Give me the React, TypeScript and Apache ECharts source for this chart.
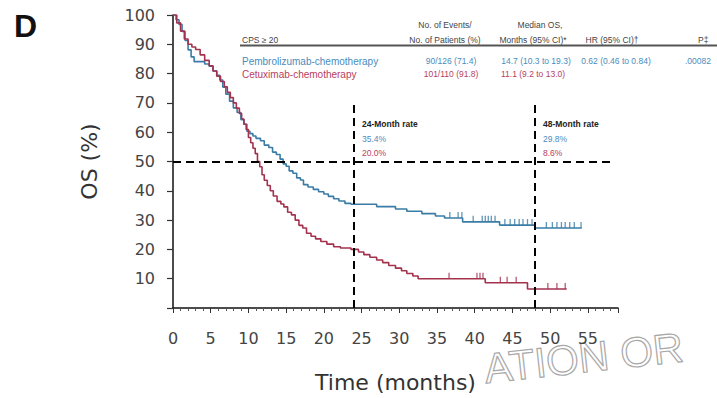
import React, { useEffect, useRef } from "react";
import * as echarts from "echarts";

// Pembrolizumab-chemotherapy KM curve (months, % surviving)
const pembroTimes = [0, 0.4, 0.8, 1.2, 1.6, 2.0, 2.4, 2.8, 4.2, 4.8, 5.3, 5.8, 6.2, 6.6, 7.0, 7.5, 8.0, 8.5, 9.0, 9.4, 9.8, 10.2, 10.6, 11.0, 11.6, 12.1, 12.7, 13.2, 13.7, 14.2, 14.6, 15.0, 15.4, 15.9, 16.4, 16.9, 17.3, 17.9, 18.6, 19.3, 20.0, 20.6, 21.3, 22.0, 22.8, 23.6, 27.0, 29.5, 31.0, 33.0, 34.8, 36.0, 38.4, 43.3, 48.0];
const pembroSurv = [100, 98.4, 96.8, 94.4, 91.3, 88.1, 85.7, 84.1, 83.3, 82.5, 80.9, 79.4, 77.8, 75.4, 73.0, 70.6, 68.3, 66.7, 64.3, 62.7, 60.3, 59.5, 58.7, 57.9, 57.1, 55.6, 54.8, 53.2, 52.4, 50.8, 49.2, 48.4, 46.8, 46.0, 44.4, 43.7, 42.1, 41.3, 40.5, 39.7, 38.9, 38.1, 37.3, 36.5, 35.7, 35.4, 34.6, 33.8, 33.0, 32.2, 31.4, 30.7, 29.4, 28.3, 27.3];
const pembroEnd = 54.2;
const pembroCensor = [36.7, 37.8, 38.3, 39.8, 41.0, 41.4, 41.8, 42.2, 42.7, 44.0, 44.7, 45.3, 45.9, 46.4, 47.0, 47.6, 49.5, 50.3, 50.9, 51.5, 52.0, 52.6, 53.2, 54.1];

// Cetuximab-chemotherapy KM curve
const cetuxTimes = [0, 0.5, 1.0, 1.5, 2.0, 2.5, 3.0, 3.6, 4.2, 4.8, 5.3, 5.8, 6.3, 6.8, 7.2, 7.6, 8.0, 8.4, 8.8, 9.1, 9.4, 9.7, 10.0, 10.3, 10.6, 10.9, 11.2, 11.5, 11.8, 12.1, 12.5, 12.9, 13.3, 13.8, 14.3, 14.7, 15.2, 15.7, 16.2, 16.7, 17.2, 17.7, 18.3, 18.9, 19.6, 20.4, 21.3, 22.2, 23.6, 24.6, 25.3, 26.1, 27.0, 27.8, 28.6, 29.5, 30.3, 31.0, 31.8, 32.5, 41.4, 47.0];
const cetuxSurv = [100, 97.3, 94.5, 91.8, 90.0, 89.1, 88.2, 86.4, 84.5, 82.7, 80.9, 79.1, 77.3, 75.5, 73.6, 71.8, 70.0, 68.2, 66.4, 64.5, 62.7, 60.9, 58.2, 56.4, 54.5, 52.7, 50.0, 48.2, 45.5, 43.6, 41.8, 40.0, 38.2, 36.4, 35.5, 34.5, 32.7, 31.8, 30.0, 28.2, 27.3, 25.5, 24.5, 23.6, 22.7, 21.8, 20.9, 20.5, 20.0, 19.1, 18.2, 17.3, 16.4, 15.5, 14.5, 13.6, 12.7, 11.8, 10.9, 10.0, 8.6, 6.5];
const cetuxEnd = 52.2;
const cetuxCensor = [36.6, 40.3, 40.7, 41.1, 43.4, 44.3, 45.5, 49.7, 50.9, 52.0];

// Landmark lines
const landmarkMonths = [24, 48];
const medianLine = 50;

// Table texts
const tableHeader1 = ["No. of Events/", "Median OS,"];
const tableHeader2 = ["CPS ≥ 20", "No. of Patients (%)", "Months (95% CI)*", "HR (95% CI)†", "P‡"];
const rowPembro = ["Pembrolizumab-chemotherapy", "90/126 (71.4)", "14.7 (10.3 to 19.3)", "0.62 (0.46 to 0.84)", ".00082"];
const rowCetux = ["Cetuximab-chemotherapy", "101/110 (91.8)", "11.1 (9.2 to 13.0)"];
const rate24 = ["24-Month rate", "35.4%", "20.0%"];
const rate48 = ["48-Month rate", "29.8%", "8.6%"];

const BLUE = "#3a7ca5";
const RED = "#a3324f";
const BLUE_TXT = "#4a8cbd";
const RED_TXT = "#b8405e";

function stepAt(times: number[], vals: number[], t: number) {
  let v = vals[0];
  for (let i = 0; i < times.length; i++) {
    if (times[i] <= t) v = vals[i];
  }
  return v;
}

function curve(times: number[], vals: number[], end: number) {
  const d = times.map((t, i) => [t, vals[i]]);
  d.push([end, vals[vals.length - 1]]);
  return d;
}

export default function App() {
  const ref = useRef<HTMLDivElement>(null);
  useEffect(() => {
    if (!ref.current) return;
    const chart = echarts.init(ref.current, null, { renderer: "svg" });
    const tf = "'Liberation Sans', Arial, sans-serif";
    const txt = (text: string, x: number, y: number, size: number, fill: string, align = "left", weight = "normal") => ({
      type: "text",
      x,
      y,
      z: 10,
      style: { text, fill, align, verticalAlign: "middle", font: `${weight} ${size}px ${tf}` },
    });
    const option: any = {
      animation: false,
      grid: { left: 173, right: 99, top: 15, bottom: 90 },
      xAxis: {
        type: "value",
        min: 0,
        max: 59,
        interval: 5,
        name: "Time (months)",
        nameLocation: "middle",
        nameGap: 63,
        nameTextStyle: { fontSize: 22, fontFamily: "DejaVu Sans", color: "#333" },
        axisLine: { show: true, lineStyle: { color: "#111", width: 1.5 } },
        axisTick: { show: true, length: 5, lineStyle: { color: "#333", width: 1 } },
        minorTick: { show: true, splitNumber: 5, length: 3, lineStyle: { color: "#555", width: 1 } },
        axisLabel: { showMaxLabel: false, fontSize: 16, fontFamily: "DejaVu Sans", color: "#444", margin: 22 },
        splitLine: { show: false },
      },
      yAxis: {
        type: "value",
        min: 0,
        max: 100,
        interval: 10,
        name: "OS (%)",
        nameLocation: "middle",
        nameGap: 73,
        nameTextStyle: { fontSize: 22, fontFamily: "DejaVu Sans", color: "#333" },
        axisLine: { show: true, lineStyle: { color: "#111", width: 1.5 } },
        axisTick: { show: true, length: 6, lineStyle: { color: "#333", width: 1.2 } },
        axisLabel: {
          formatter: (v: number) => (v === 0 ? "" : String(v)),
          fontSize: 16,
          fontFamily: "DejaVu Sans",
          color: "#444",
          margin: 18,
        },
        splitLine: { show: false },
      },
      series: [
        {
          type: "line",
          name: "Pembrolizumab-chemotherapy",
          data: curve(pembroTimes, pembroSurv, pembroEnd),
          step: "end",
          showSymbol: false,
          lineStyle: { color: BLUE, width: 1.6 },
          z: 3,
        },
        {
          type: "line",
          name: "Cetuximab-chemotherapy",
          data: curve(cetuxTimes, cetuxSurv, cetuxEnd),
          step: "end",
          showSymbol: false,
          lineStyle: { color: RED, width: 1.6 },
          z: 3,
        },
        {
          type: "scatter",
          data: pembroCensor.map((t) => [t, stepAt(pembroTimes, pembroSurv, t)]),
          symbol: "rect",
          symbolSize: [1.3, 6],
          symbolOffset: [0, -3],
          itemStyle: { color: BLUE },
          z: 4,
        },
        {
          type: "scatter",
          data: cetuxCensor.map((t) => [t, stepAt(cetuxTimes, cetuxSurv, t)]),
          symbol: "rect",
          symbolSize: [1.3, 6],
          symbolOffset: [0, -3],
          itemStyle: { color: RED },
          z: 4,
        },
        {
          type: "line",
          data: [],
          markLine: {
            silent: true,
            symbol: ["none", "none"],
            label: { show: false },
            lineStyle: { color: "#000", type: [8, 5], width: 2 },
            data: [
              ...landmarkMonths.map((m) => [{ coord: [m, 0] }, { coord: [m, 71] }]),
              [{ coord: [0, medianLine] }, { coord: [58, medianLine] }],
            ],
          },
          z: 5,
        },
      ],
      graphic: [
        {
          type: "text",
          x: 482,
          y: 348,
          rotation: 0.11,
          z: 0,
          style: {
            text: "ATION OR",
            fill: "rgba(0,0,0,0)",
            stroke: "#a8a8a8",
            lineWidth: 1.2,
            font: `normal 42px ${tf}`,
            align: "left",
            verticalAlign: "top",
          },
        },
        txt("D", 14, 26, 32, "#111", "left", "bold"),
        // table
        txt(tableHeader1[0], 445, 25, 8.5, "#444", "center"),
        txt(tableHeader1[1], 540, 25, 8.5, "#444", "center"),
        txt(tableHeader2[0], 242, 40, 8.5, "#444", "left"),
        txt(tableHeader2[1], 445, 40, 8.5, "#444", "center"),
        txt(tableHeader2[2], 533, 40, 8.5, "#444", "center"),
        txt(tableHeader2[3], 612, 40, 8.5, "#444", "center"),
        txt(tableHeader2[4], 698, 40, 8.5, "#444", "left"),
        {
          type: "line",
          z: 10,
          shape: { x1: 240, y1: 45.5, x2: 717, y2: 45.5 },
          style: { stroke: "#555", lineWidth: 2 },
        },
        txt(rowPembro[0], 242, 61, 10, BLUE_TXT, "left"),
        txt(rowPembro[1], 451, 61, 8.5, BLUE_TXT, "center"),
        txt(rowPembro[2], 536, 61, 8.5, BLUE_TXT, "center"),
        txt(rowPembro[3], 616, 61, 8.5, BLUE_TXT, "center"),
        txt(rowPembro[4], 685, 61, 8.5, BLUE_TXT, "left"),
        txt(rowCetux[0], 242, 74, 10, RED_TXT, "left"),
        txt(rowCetux[1], 451, 74, 8.5, RED_TXT, "center"),
        txt(rowCetux[2], 533, 74, 8.5, RED_TXT, "center"),
        // landmark rates
        txt(rate24[0], 362, 124, 8.5, "#222", "left", "bold"),
        txt(rate24[1], 362, 139, 8.5, BLUE_TXT, "left"),
        txt(rate24[2], 362, 153, 8.5, RED_TXT, "left"),
        txt(rate48[0], 543, 124, 8.5, "#222", "left", "bold"),
        txt(rate48[1], 543, 139, 8.5, BLUE_TXT, "left"),
        txt(rate48[2], 543, 153, 8.5, RED_TXT, "left"),
      ],
    };
    chart.setOption(option);
    return () => chart.dispose();
  }, []);
  return (
    <div
      ref={ref}
      style={{ position: "fixed", left: 0, top: 0, width: 717, height: 398, background: "#fff" }}
    />
  );
}
